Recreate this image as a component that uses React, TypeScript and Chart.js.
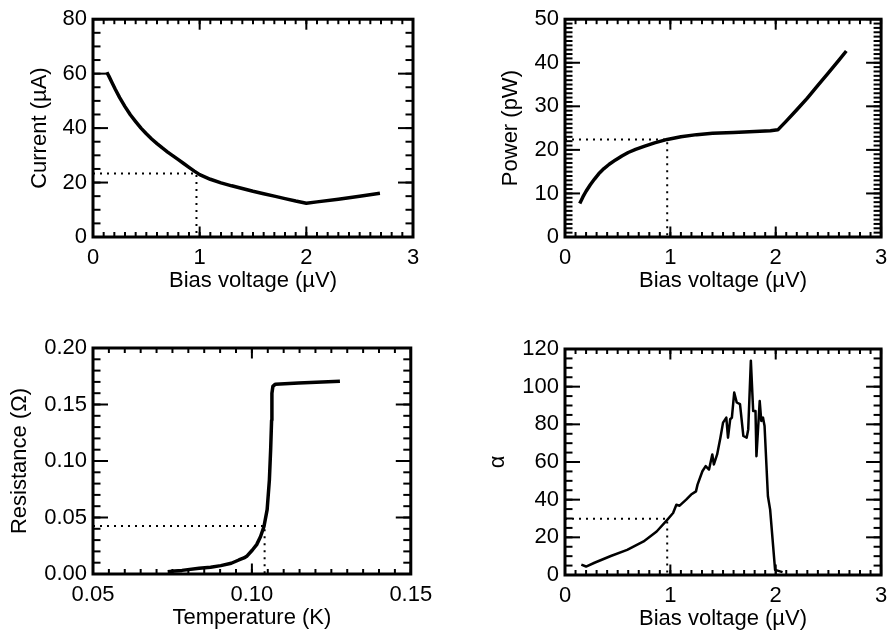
import React, { useEffect, useRef } from "react";
import { Chart, registerables } from "chart.js";

Chart.register(...registerables);

// ---------- data ----------
// Panel 1: current vs bias voltage
const ivBias = [0.13, 0.15, 0.18, 0.21, 0.25, 0.3, 0.35, 0.4, 0.45, 0.5, 0.55, 0.6, 0.65, 0.7, 0.75, 0.8, 0.85, 0.9, 0.95, 1.0, 1.1, 1.2, 1.3, 1.4, 1.5, 1.6, 1.7, 1.8, 1.9, 2.0, 2.1, 2.3, 2.5, 2.69];
const ivCurrent = [60.5, 59.0, 56.6, 54.2, 51.2, 47.9, 44.9, 42.4, 40.0, 37.9, 36.0, 34.3, 32.7, 31.2, 29.8, 28.4, 27.0, 25.6, 24.2, 22.9, 21.2, 19.9, 18.8, 17.8, 16.8, 15.9, 15.0, 14.1, 13.2, 12.4, 12.9, 13.9, 15.0, 16.1];
const ivOpBias = 0.97;
const ivOpCurrent = 23.3;

// Panel 2: power vs bias voltage
const pvBias = [0.14, 0.17, 0.2, 0.24, 0.28, 0.32, 0.37, 0.42, 0.48, 0.54, 0.6, 0.67, 0.75, 0.85, 0.97, 1.1, 1.25, 1.4, 1.6, 1.8, 1.95, 2.02, 2.1, 2.2, 2.3, 2.4, 2.5, 2.6, 2.67];
const pvPower = [7.7, 9.2, 10.5, 12.0, 13.3, 14.5, 15.7, 16.7, 17.7, 18.6, 19.4, 20.1, 20.8, 21.6, 22.4, 23.0, 23.5, 23.8, 24.0, 24.2, 24.4, 24.6, 26.6, 29.2, 31.9, 34.8, 37.7, 40.6, 42.7];
const pvOpBias = 0.97;
const pvOpPower = 22.4;

// Panel 3: resistance vs temperature
const rtTemp = [0.0735, 0.0757, 0.078, 0.0834, 0.087, 0.0902, 0.0935, 0.0959, 0.0975, 0.0985, 0.1001, 0.1015, 0.1027, 0.1038, 0.1048, 0.1055, 0.1059, 0.1062, 0.1063, 0.1066, 0.1074, 0.1147, 0.1277];
const rtRes = [0.002, 0.0026, 0.0032, 0.005, 0.006, 0.0074, 0.0095, 0.0124, 0.0142, 0.016, 0.021, 0.026, 0.033, 0.042, 0.057, 0.083, 0.11, 0.136, 0.16, 0.166, 0.168, 0.169, 0.1705];
const rtOpTemp = 0.104;
const rtOpRes = 0.0425;

// Panel 4: alpha vs bias voltage
const alBias = [0.155, 0.2, 0.28, 0.435, 0.59, 0.746, 0.87, 0.97, 1.026, 1.057, 1.088, 1.15, 1.197, 1.243, 1.258, 1.304, 1.335, 1.367, 1.398, 1.413, 1.444, 1.475, 1.5, 1.531, 1.547, 1.568, 1.584, 1.606, 1.63, 1.661, 1.693, 1.724, 1.739, 1.764, 1.786, 1.808, 1.817, 1.848, 1.863, 1.879, 1.894, 1.926, 1.947, 1.994, 2.065];
const alAlpha = [5.5, 4.5, 6.5, 10.1, 13.3, 17.8, 23.1, 29.3, 32.9, 37.3, 36.8, 40.0, 42.7, 44.4, 48.0, 55.1, 57.8, 56.0, 64.0, 58.7, 64.0, 72.9, 80.9, 83.6, 72.9, 82.7, 83.6, 96.9, 91.6, 90.7, 73.8, 72.9, 77.3, 113.8, 87.1, 87.1, 63.1, 92.4, 81.8, 83.6, 79.1, 41.8, 34.7, 2.7, 1.5];
const alOpBias = 0.97;
const alOpAlpha = 29.9;

// tick labels
const biasTicks = [0, 1, 2, 3];
const currentTicks = [0, 20, 40, 60, 80];
const powerTicks = [0, 10, 20, 30, 40, 50];
const tempTicks = [0.05, 0.1, 0.15];
const resTicks = [0, 0.05, 0.1, 0.15, 0.2];
const alphaTicks = [0, 20, 40, 60, 80, 100, 120];

// ---------- style ----------
const FONT = "'Liberation Sans', Arial, Helvetica, sans-serif";
const FS = 22;
const LH = FS * 1.2;

type Panel = {
  box: { x: number; y: number; w: number; h: number };
  area: { l: number; t: number; r: number; b: number };
  xs: number[]; ys: number[]; lw: number;
  op: [number, number];
  xMin: number; xMax: number; xTicks: number[]; xMinor: number; xDec: number; xTitle: string;
  yMin: number; yMax: number; yTicks: number[]; yMinor: number; yDec: number; yTitle: string;
  yTitleX: number;
};

const panels: Panel[] = [
  {
    box: { x: 0, y: 0, w: 440, h: 310 }, area: { l: 93, t: 12, r: 413, b: 237 },
    xs: ivBias, ys: ivCurrent, lw: 3.5, op: [ivOpBias, ivOpCurrent],
    xMin: 0, xMax: 3, xTicks: biasTicks, xMinor: 0.1, xDec: 0, xTitle: "Bias voltage (\u00B5V)",
    yMin: 0, yMax: 80, yTicks: currentTicks, yMinor: 5, yDec: 0, yTitle: "Current (\u00B5A)",
    yTitleX: 39.6,
  },
  {
    box: { x: 455, y: 0, w: 440, h: 310 }, area: { l: 565, t: 12, r: 887, b: 237 },
    xs: pvBias, ys: pvPower, lw: 3.5, op: [pvOpBias, pvOpPower],
    xMin: 0, xMax: 3, xTicks: biasTicks, xMinor: 0.1, xDec: 0, xTitle: "Bias voltage (\u00B5V)",
    yMin: 0, yMax: 50, yTicks: powerTicks, yMinor: 1, yDec: 0, yTitle: "Power (pW)",
    yTitleX: 511,
  },
  {
    box: { x: 0, y: 317, w: 440, h: 317 }, area: { l: 93, t: 348, r: 413, b: 574 },
    xs: rtTemp, ys: rtRes, lw: 3.5, op: [rtOpTemp, rtOpRes],
    xMin: 0.05, xMax: 0.15, xTicks: tempTicks, xMinor: 0.005, xDec: 2, xTitle: "Temperature (K)",
    yMin: 0, yMax: 0.2, yTicks: resTicks, yMinor: 0.01, yDec: 2, yTitle: "Resistance (\u03A9)",
    yTitleX: 19.5,
  },
  {
    box: { x: 455, y: 317, w: 440, h: 317 }, area: { l: 565, t: 349, r: 887, b: 575 },
    xs: alBias, ys: alAlpha, lw: 2.5, op: [alOpBias, alOpAlpha],
    xMin: 0, xMax: 3, xTicks: biasTicks, xMinor: 0.1, xDec: 0, xTitle: "Bias voltage (\u00B5V)",
    yMin: 0, yMax: 120, yTicks: alphaTicks, yMinor: 5, yDec: 0, yTitle: "\u03B1",
    yTitleX: 497.7,
  },
];

const frame = {
  id: "idlFrame",
  afterDatasetsDraw(chart: any, _args: any, opts: any) {
    const { ctx, chartArea: a, scales } = chart;
    const xs = scales.x, ys = scales.y;
    const p: Panel = opts.panel;
    ctx.save();
    ctx.strokeStyle = "#000";
    const seg = (x1: number, y1: number, x2: number, y2: number) => {
      ctx.beginPath(); ctx.moveTo(x1, y1); ctx.lineTo(x2, y2); ctx.stroke();
    };
    ctx.lineWidth = 2;
    const xMaj = 10.5, xMin = 5, yMaj = 15, yMin = 7.5;
    const nx = Math.round((p.xMax - p.xMin) / p.xMinor);
    for (let i = 0; i <= nx; i++) {
      const px = xs.getPixelForValue(p.xMin + i * p.xMinor);
      seg(px, a.bottom, px, a.bottom - xMin);
      seg(px, a.top, px, a.top + xMin);
    }
    for (const v of p.xTicks) {
      const px = xs.getPixelForValue(v);
      seg(px, a.bottom, px, a.bottom - xMaj);
      seg(px, a.top, px, a.top + xMaj);
    }
    const ny = Math.round((p.yMax - p.yMin) / p.yMinor);
    for (let i = 0; i <= ny; i++) {
      const py = ys.getPixelForValue(p.yMin + i * p.yMinor);
      seg(a.left, py, a.left + yMin, py);
      seg(a.right, py, a.right - yMin, py);
    }
    for (const v of p.yTicks) {
      const py = ys.getPixelForValue(v);
      seg(a.left, py, a.left + yMaj, py);
      seg(a.right, py, a.right - yMaj, py);
    }
    ctx.lineWidth = 3;
    ctx.strokeRect(a.left, a.top, a.right - a.left, a.bottom - a.top);
    ctx.restore();
  },
};

function PanelChart({ p }: { p: Panel }) {
  const ref = useRef<HTMLCanvasElement>(null);
  useEffect(() => {
    const { box, area } = p;
    const yScaleW = area.l - box.x;
    const xScaleH = box.y + box.h - area.b;
    const padTop = area.t - box.y;
    const padRight = box.x + box.w - area.r;
    const xTitleMid = area.b + 44;
    const xTitlePadBottom = box.y + box.h - xTitleMid - LH / 2;
    const yTitlePadTop = p.yTitleX - box.x - LH / 2;
    const font = { family: FONT, size: FS, lineHeight: 1.2 };
    const chart = new Chart(ref.current!, {
      type: "scatter",
      data: {
        datasets: [
          {
            data: p.xs.map((x, i) => ({ x, y: p.ys[i] })),
            showLine: true, borderColor: "#000", borderWidth: p.lw,
            pointRadius: 0, borderJoinStyle: "round", tension: 0,
          },
          {
            data: [
              { x: p.xMin, y: p.op[1] },
              { x: p.op[0], y: p.op[1] },
              { x: p.op[0], y: p.yMin },
            ],
            showLine: true, borderColor: "#000", borderWidth: 2,
            borderDash: [2, 5], pointRadius: 0, tension: 0,
          },
        ],
      },
      options: {
        responsive: false,
        animation: false,
        devicePixelRatio: 1,
        layout: { autoPadding: false, padding: { top: padTop, right: padRight, left: 0, bottom: 0 } },
        plugins: { legend: { display: false }, tooltip: { enabled: false }, idlFrame: { panel: p } } as any,
        scales: {
          x: {
            type: "linear", position: "bottom", min: p.xMin, max: p.xMax,
            grid: { display: false, drawTicks: false }, border: { display: false },
            afterBuildTicks: (s: any) => { s.ticks = p.xTicks.map((v) => ({ value: v })); },
            afterFit: (s: any) => { s.height = xScaleH; },
            ticks: {
              color: "#000", font, padding: 21 - LH / 2, maxRotation: 0, autoSkip: false,
              callback: (v: any) => Number(v).toFixed(p.xDec),
            },
            title: { display: true, text: p.xTitle, color: "#000", font, padding: { top: 0, bottom: xTitlePadBottom } },
          },
          y: {
            type: "linear", position: "left", min: p.yMin, max: p.yMax,
            grid: { display: false, drawTicks: false }, border: { display: false },
            afterBuildTicks: (s: any) => { s.ticks = p.yTicks.map((v) => ({ value: v })); },
            afterFit: (s: any) => { s.width = yScaleW; },
            ticks: {
              color: "#000", font, padding: 6, autoSkip: false,
              callback: (v: any) => Number(v).toFixed(p.yDec),
            },
            title: { display: true, text: p.yTitle, color: "#000", font, padding: { top: yTitlePadTop, bottom: 0 } },
          },
        },
      } as any,
      plugins: [frame],
    });
    return () => chart.destroy();
  }, [p]);
  return (
    <canvas
      ref={ref}
      width={p.box.w}
      height={p.box.h}
      style={{ position: "absolute", left: p.box.x, top: p.box.y, width: p.box.w, height: p.box.h }}
    />
  );
}

export default function App() {
  return (
    <div style={{ position: "fixed", left: 0, top: 0, width: 895, height: 634, background: "#fff", overflow: "hidden" }}>
      {panels.map((p, i) => (
        <PanelChart key={i} p={p} />
      ))}
    </div>
  );
}
